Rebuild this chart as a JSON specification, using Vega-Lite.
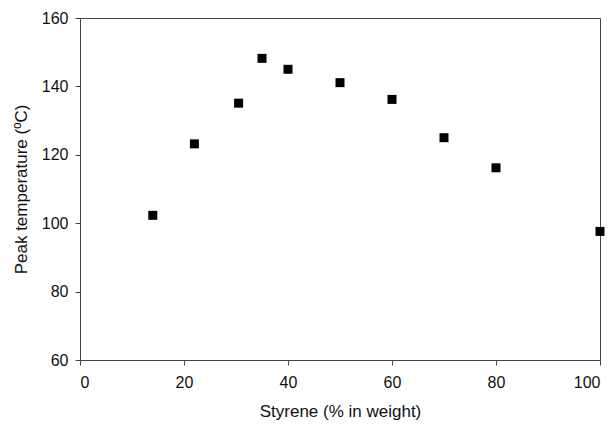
{
  "$schema": "https://vega.github.io/schema/vega-lite/v6.json",
  "autosize": "none",
  "width": 520,
  "height": 342,
  "padding": {"left": 80, "top": 18, "right": 15, "bottom": 64},
  "background": "white",
  "config": {
    "view": {"stroke": "#444444", "strokeWidth": 1},
    "font": "Liberation Sans",
    "axis": {
      "grid": false,
      "domainColor": "#444444",
      "tickColor": "#444444",
      "tickSize": 5,
      "labelFont": "Liberation Sans",
      "labelFontSize": 16,
      "labelColor": "#111111",
      "titleFont": "Liberation Sans",
      "titleFontSize": 17,
      "titleFontWeight": "normal",
      "titleColor": "#111111"
    }
  },
  "data": {
    "values": [
      {"styrene": 14, "peak": 102.3},
      {"styrene": 22, "peak": 123.2},
      {"styrene": 30.5, "peak": 135.1},
      {"styrene": 35, "peak": 148.2},
      {"styrene": 40, "peak": 145},
      {"styrene": 50, "peak": 141.1},
      {"styrene": 60, "peak": 136.2},
      {"styrene": 70, "peak": 125},
      {"styrene": 80, "peak": 116.2},
      {"styrene": 100, "peak": 97.6}
    ]
  },
  "mark": {"type": "square", "size": 81, "color": "black", "opacity": 1},
  "encoding": {
    "x": {
      "field": "styrene",
      "type": "quantitative",
      "scale": {"domain": [0, 100], "nice": false},
      "axis": {"values": [0, 20, 40, 60, 80, 100], "title": "Styrene (% in weight)", "labelPadding": 9, "titlePadding": 13}
    },
    "y": {
      "field": "peak",
      "type": "quantitative",
      "scale": {"domain": [60, 160], "nice": false, "zero": false},
      "axis": {"values": [60, 80, 100, 120, 140, 160], "title": "Peak temperature (ºC)", "labelPadding": 7, "titlePadding": 11}
    }
  }
}
